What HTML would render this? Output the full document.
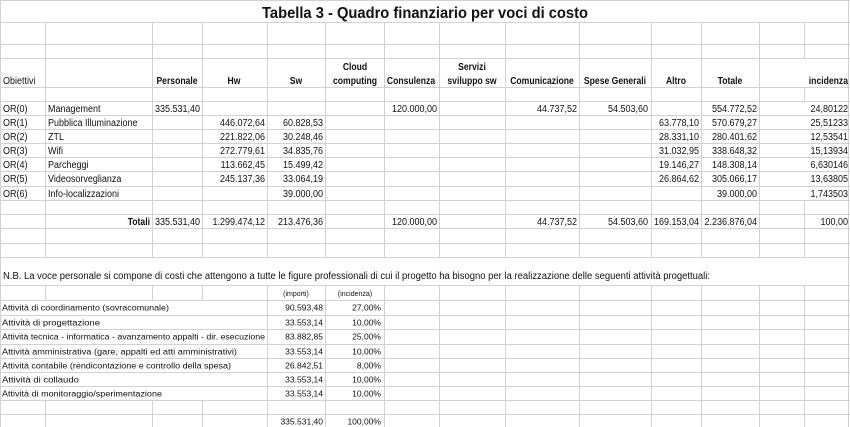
<!DOCTYPE html>
<html><head><meta charset="utf-8"><style>
html,body{margin:0;padding:0;background:#fff;}
svg{display:block;font-family:"Liberation Sans",Arial,sans-serif;}
</style></head><body>
<svg id="s" width="850" height="427" xmlns="http://www.w3.org/2000/svg">
<rect width="850" height="427" fill="#fff"/>
<g stroke="#d2d2d2" stroke-width="1">
<line x1="0" y1="0.5" x2="850" y2="0.5"/>
<line x1="0.5" y1="0" x2="0.5" y2="427"/>
<line x1="848.5" y1="0" x2="848.5" y2="427"/>
</g>
<g id="grid" stroke="#d2d2d2" stroke-width="1"></g>
<g id="txt" fill="#111"></g>
<script>
var NS="http://www.w3.org/2000/svg";
var g=document.getElementById("grid"),t=document.getElementById("txt");
var Y=[22,44,58,87,101,115,129,143,157,171,186,200,214,228,243,257,285,300,315,329,344,358,372,386,400,414];
Y.forEach(function(y){var l=document.createElementNS(NS,"line");l.setAttribute("x1",0);l.setAttribute("x2",850);l.setAttribute("y1",y+.5);l.setAttribute("y2",y+.5);g.appendChild(l);});
var X=[45,152,202,267,325,384,439,505,579,651,701,759,804];
function vl(x,a,b){var l=document.createElementNS(NS,"line");l.setAttribute("x1",x+.5);l.setAttribute("x2",x+.5);l.setAttribute("y1",a);l.setAttribute("y2",b);g.appendChild(l);}
X.forEach(function(x){
 if(x==804){vl(x,22,58);vl(x,87,101);vl(x,200,257);vl(x,285,427);}
 else if(x<267){vl(x,22,257);vl(x,285,300);vl(x,400,427);}
 else {vl(x,22,257);vl(x,285,427);}
});
function tx(s,x,y,o){o=o||{};var e=document.createElementNS(NS,"text");e.textContent=s;e.setAttribute("x",x);e.setAttribute("y",y);
 var fs=o.fs||10;e.setAttribute("font-size",fs);if(o.b)e.setAttribute("font-weight","bold");if(o.a)e.setAttribute("text-anchor",o.a);
 t.appendChild(e);
 var tl=o.tl;
 if(!tl&&fs>=10){try{tl=e.getComputedTextLength()*(o.b?0.86:0.9);}catch(err){}}
 if(tl){e.setAttribute("textLength",tl);e.setAttribute("lengthAdjust","spacingAndGlyphs");}}
tx("Tabella 3 - Quadro finanziario per voci di costo",262,18,{fs:16,b:1,tl:326});
tx("Obiettivi",3,84);
var H=[["Personale",177],["Hw",234],["Sw",296],["Consulenza",411],["Comunicazione",542],["Spese Generali",615],["Altro",676],["Totale",730]];
H.forEach(function(h){tx(h[0],h[1],84,{b:1,a:"middle"});});
tx("Cloud",355,70,{b:1,a:"middle"});tx("computing",355,84,{b:1,a:"middle"});
tx("Servizi",472,70,{b:1,a:"middle"});tx("sviluppo sw",472,84,{b:1,a:"middle"});
tx("incidenza",848,84,{b:1,a:"end"});
var R=[["OR(0)","Management","335.531,40","","","120.000,00","44.737,52","54.503,60","","554.772,52","24,80122"],
["OR(1)","Pubblica Illuminazione","","446.072,64","60.828,53","","","","63.778,10","570.679,27","25,51233"],
["OR(2)","ZTL","","221.822,06","30.248,46","","","","28.331,10","280.401,62","12,53541"],
["OR(3)","Wifi","","272.779,61","34.835,76","","","","31.032,95","338.648,32","15,13934"],
["OR(4)","Parcheggi","","113.662,45","15.499,42","","","","19.146,27","148.308,14","6,630146"],
["OR(5)","Videosorveglianza","","245.137,36","33.064,19","","","","26.864,62","305.066,17","13,63805"],
["OR(6)","Info-localizzazioni","","","39.000,00","","","","","39.000,00","1,743503"]];
var RY=[101,115,129,143,157,171,186];
var RX=[200,265,323,437,577,648,699,757,848];
R.forEach(function(r,i){var y=RY[i]+11;tx(r[0],3,y);tx(r[1],48,y);
 for(var k=2;k<11;k++){if(r[k])tx(r[k],RX[k-2],y,{a:"end"});}});
var T=["335.531,40","1.299.474,12","213.476,36","120.000,00","44.737,52","54.503,60","169.153,04","2.236.876,04","100,00"];
tx("Totali",150,225,{b:1,a:"end"});
T.forEach(function(v,k){tx(v,RX[k],225,{a:"end"});});
tx("N.B. La voce personale si compone di costi che attengono a tutte le figure professionali di cui il progetto ha bisogno per la realizzazione delle seguenti attività progettuali:",3,279,{tl:707});
tx("(importi)",296,296,{fs:7,a:"middle"});tx("(incidenza)",355,296,{fs:7,a:"middle"});
var A=[["Attività di coordinamento (sovracomunale)","90.593,48","27,00%",167],
["Attività di progettazione","33.553,14","10,00%",98],
["Attività tecnica - informatica - avanzamento appalti - dir. esecuzione","83.882,85","25,00%",263],
["Attività amministrativa (gare, appalti ed atti amministrativi)","33.553,14","10,00%",235],
["Attività contabile (rendicontazione e controllo della spesa)","26.842,51","8,00%",229],
["Attività di collaudo","33.553,14","10,00%",77],
["Attività di monitoraggio/sperimentazione","33.553,14","10,00%",160]];
var AY=[300,315,329,344,358,372,386];
A.forEach(function(a,i){var y=AY[i]+10.5;tx(a[0],2,y,{fs:8,tl:a[3]});tx(a[1],323,y,{fs:8.5,a:"end"});tx(a[2],381,y,{fs:8.5,a:"end"});});
tx("335.531,40",323,424.5,{fs:8.5,a:"end"});tx("100,00%",381,424.5,{fs:8.5,a:"end"});
</script>
</svg>
</body></html>
